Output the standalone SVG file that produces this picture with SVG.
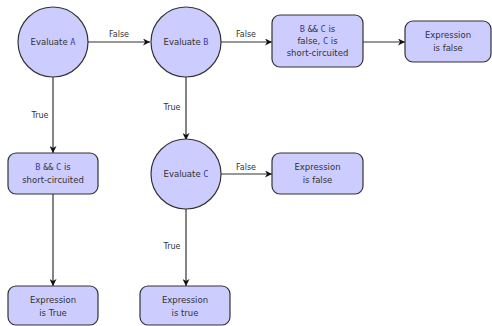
<svg xmlns="http://www.w3.org/2000/svg" width="492" height="326" viewBox="0 0 492 326">
<style>
.n{fill:#ccccff;stroke:#333;stroke-width:1.2}
.t{font-family:"DejaVu Sans",sans-serif;font-size:8.5px;fill:#333;text-anchor:middle;dominant-baseline:central}
.c{font-family:"DejaVu Sans Mono",monospace;fill:#3a3aa8;font-size:8.5px}
.k{font-family:"DejaVu Sans Mono",monospace;fill:#333;font-size:8.5px}
.l{font-family:"DejaVu Sans",sans-serif;font-size:8px;fill:#333;text-anchor:middle}
.e{stroke:#333;stroke-width:1.2;fill:none;marker-end:url(#ah)}
</style>
<defs>
<marker id="ah" viewBox="0 0 10 10" refX="10" refY="5" markerWidth="7" markerHeight="7" markerUnits="userSpaceOnUse" orient="auto">
<path d="M0,0 L10,5 L0,10 L3,5 Z" fill="#111"/>
</marker>
</defs>
<rect width="492" height="326" fill="#fff"/>
<g id="connectors">
<line class="e" x1="88" y1="42" x2="150" y2="42"/>
<text class="l" x="119" y="37">False</text>
<line class="e" x1="221" y1="42" x2="272" y2="42"/>
<text class="l" x="246" y="37">False</text>
<line class="e" x1="363" y1="42" x2="405" y2="42"/>
<line class="e" x1="53" y1="77" x2="53" y2="153"/>
<text class="l" x="40" y="118">True</text>
<line class="e" x1="186" y1="77" x2="186" y2="140"/>
<text class="l" x="172" y="110">True</text>
<line class="e" x1="221" y1="174" x2="272" y2="174"/>
<text class="l" x="246" y="170">False</text>
<line class="e" x1="53" y1="194" x2="53" y2="286"/>
<line class="e" x1="186" y1="209" x2="186" y2="286"/>
<text class="l" x="172" y="249">True</text>
</g>
<g id="evalA">
<circle class="n" cx="53" cy="42" r="35"/>
<text class="t" x="53" y="42">Evaluate <tspan class="c">A</tspan></text>
</g>
<g id="evalB">
<circle class="n" cx="186" cy="42" r="35"/>
<text class="t" x="186" y="42">Evaluate <tspan class="c">B</tspan></text>
</g>
<g id="bcFalse">
<rect class="n" x="272" y="15" width="91" height="52" rx="8"/>
<text class="t" x="317.5" y="29"><tspan class="c">B</tspan> <tspan class="k">&amp;&amp;</tspan> <tspan class="c">C</tspan> is</text>
<text class="t" x="317.5" y="41">false, <tspan class="c">C</tspan> is</text>
<text class="t" x="317.5" y="53">short-circuited</text>
</g>
<g id="exprFalse1">
<rect class="n" x="405" y="21" width="86" height="41" rx="8"/>
<text class="t" x="448" y="35">Expression</text>
<text class="t" x="448" y="48">is false</text>
</g>
<g id="bcShort">
<rect class="n" x="8" y="153" width="90" height="41" rx="8"/>
<text class="t" x="53" y="167"><tspan class="c">B</tspan> <tspan class="k">&amp;&amp;</tspan> <tspan class="c">C</tspan> is</text>
<text class="t" x="53" y="180">short-circuited</text>
</g>
<g id="evalC">
<circle class="n" cx="186" cy="174" r="35"/>
<text class="t" x="186" y="174">Evaluate <tspan class="c">C</tspan></text>
</g>
<g id="exprFalse2">
<rect class="n" x="272" y="153" width="91" height="41" rx="8"/>
<text class="t" x="317.5" y="167">Expression</text>
<text class="t" x="317.5" y="180">is false</text>
</g>
<g id="exprTrueA">
<rect class="n" x="8" y="286" width="90" height="39" rx="8"/>
<text class="t" x="53" y="300">Expression</text>
<text class="t" x="53" y="313">is True</text>
</g>
<g id="exprTrueC">
<rect class="n" x="140" y="286" width="90" height="39" rx="8"/>
<text class="t" x="185" y="300">Expression</text>
<text class="t" x="185" y="313">is true</text>
</g>
</svg>
